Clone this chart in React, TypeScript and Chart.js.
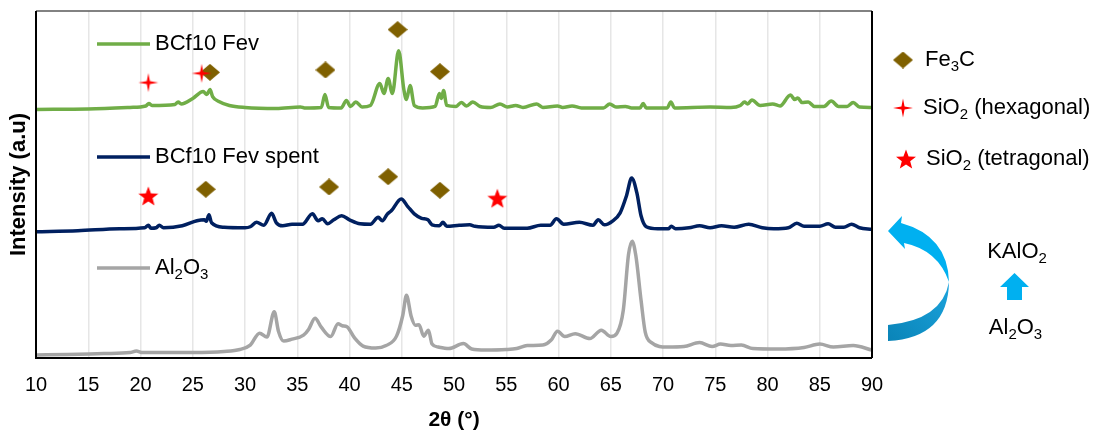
import React, { useEffect, useRef } from 'react';
import { Chart, registerables } from 'chart.js';
Chart.register(...registerables);

const FONT = '"Liberation Sans", Arial, Helvetica, sans-serif';

// ---- data (offset intensity, a.u.) ----
const fevX = [10,15,19,20.5,20.8,21.1,23.3,23.6,23.9,25,26,26.35,26.65,26.9,27.5,28.5,30,33,35.3,35.7,37.3,37.65,38,39.2,39.7,40.1,40.6,41.2,42,42.9,43.3,43.7,44.1,44.7,45.2,45.45,45.8,46.2,47,48.2,48.6,48.8,49,49.3,50.2,50.7,51.2,51.8,52.5,53.5,54.4,55.1,55.9,56.6,57.9,58.5,59.9,60.4,61.3,62.2,64.3,64.9,65.5,66.4,67,67.8,68.1,68.4,70.4,70.75,71.1,74.5,76.5,77.4,77.8,78.1,78.5,79.3,80.5,81.2,82.2,82.6,82.9,83.3,83.9,84.5,85.4,86.1,86.8,87.6,88.2,88.8,90];
const fevY = [250,250.5,252,253.5,256,254,255,257.5,255.5,261,268,265,270,263,258,254,252,251,252.5,251.5,252,265,252,251.5,259,253,257.5,252.5,254,276,266,281,266,309,270,260,274,254,251.5,253,266,261,269,254,253,257,253.5,257.5,253,252,255.5,252.5,254,252,255.5,252,253.5,252,253.5,251.5,251.5,255.5,252.5,253,251.5,251.5,256,251.5,251.5,257.5,251.5,252.5,252,254,257.5,255.5,259.5,254,255.5,253.5,264.5,260,261.5,257,257.5,253,253,258.5,253,253,257,252.5,252];

const spentX = [10,14,18,20.4,20.75,21,21.5,21.8,22.2,24,25.4,26.1,26.3,26.55,26.8,28,30,30.5,31.1,31.8,32.55,33,33.6,34.5,35.5,36.45,37,37.4,37.9,38.5,39.25,40,41,42,42.75,43.15,43.6,44,44.95,45.6,46.2,46.9,47.5,47.9,48.6,48.95,49.3,50.5,51.5,52,53.8,54.3,54.8,57,58.3,59.2,59.8,60.5,62,63.3,63.8,64.4,65.2,65.9,66.5,67,67.5,67.9,68.4,69.5,70.5,70.8,71.2,72.5,73.5,74.5,75.6,76.8,78.2,79.5,80.6,82,82.8,83.5,85,85.8,86.5,87.3,88.05,88.8,90];
const spentY = [127,128,130,131,133.5,130.5,131,133.5,131,133,138,139,137.5,144,136,131.5,131,132,136.5,133.5,145.5,136,133,134.5,134.5,145,138,140,135,139,143,139,135,134.5,141.5,138,144.5,148,160,152,145,140.5,139,134,133,136.5,132.5,133.5,134,132.5,131.5,133.5,130.5,130.5,133.5,133.5,140,134.5,136.5,133.5,139,134,138,146,163,181,166,143,132,130,130,132.5,130,131,133,131,133,131.5,134.5,131,130,131,135.5,132.5,132.5,135,131.5,131.5,134.5,131,129.5];

const aluX = [10,13,16.5,19,19.6,20.2,25,28,29.5,30.5,31.4,32.1,32.8,33.2,33.7,34.5,35.6,36.1,36.7,37.3,38.2,38.9,39.3,39.75,40.5,41.3,42.5,43.5,44.5,45.1,45.45,45.9,46.3,46.65,47.1,47.55,47.9,48.5,49.5,50.9,51.7,53,55,56,57,58.5,59.3,59.9,60.6,61.6,63,64.1,65,65.6,66.2,66.7,67.05,67.4,67.9,68.3,68.9,70.4,72,73.5,74.7,75.5,76.5,77.5,78.6,81,83.5,85,86.3,88.2,90];
const aluY = [3,3.5,4.5,5.5,7,5.5,5.5,6.5,8.5,13,25,21,46.5,27,17,19,23,29,40,31,21.5,34.5,32.5,31.5,20,12,10,12.5,22,43,63,42,33,33.5,22,28,14,11,9.5,14.5,9,8,8.5,9.5,12.5,13,18,27,21.5,24.5,19.5,28,21.5,25,48,104,117.5,103,58,26,15.5,11,11.5,15.5,11.5,14,12.5,13,9.5,9,10.5,14,11,12.5,8];

// phase markers
const fe3cX = [26.65,37.7,44.6,48.65,26.25,38.05,43.7,48.65];
const fe3cY = [287.3,289.7,330.3,288,169.7,172,182.3,168.7];
const hexX = [20.75,25.85];
const hexY = [277,286.3];
const tetX = [20.75,54.15];
const tetY = [163,160.7];

const seriesNames = ['BCf10 Fev', 'BCf10 Fev spent', 'Al2O3'];
const seriesColors = ['#70AD47', '#002060', '#A5A5A5'];
const xMin = 10, xMax = 90, xStep = 5;

type Part = [string, boolean];
const seriesLabelParts: Part[][] = [
  [['BCf10 Fev', false]],
  [['BCf10 Fev spent', false]],
  [['Al', false], ['2', true], ['O', false], ['3', true]],
];
const phaseLabelParts: Part[][] = [
  [['Fe', false], ['3', true], ['C', false]],
  [['SiO', false], ['2', true], [' (hexagonal)', false]],
  [['SiO', false], ['2', true], [' (tetragonal)', false]],
];
const kalo2Parts: Part[] = [['KAlO', false], ['2', true]];
const al2o3Parts: Part[] = [['Al', false], ['2', true], ['O', false], ['3', true]];

function pts(xs: number[], ys: number[]) {
  return xs.map((x, i) => ({ x, y: ys[i] }));
}

function makeDiamond() {
  const w = 20, h = 17;
  const c = document.createElement('canvas');
  c.width = w; c.height = h;
  const g = c.getContext('2d')!;
  g.fillStyle = '#7F6000';
  g.beginPath();
  g.moveTo(w / 2, 0); g.lineTo(w, h / 2); g.lineTo(w / 2, h); g.lineTo(0, h / 2);
  g.closePath(); g.fill();
  return c;
}

function makeStar(n: number, rx: number, ry: number, inner: number, size: number, cy: number) {
  const c = document.createElement('canvas');
  c.width = size; c.height = size;
  const g = c.getContext('2d')!;
  g.fillStyle = '#FF0000';
  g.beginPath();
  const cx = size / 2;
  for (let i = 0; i < n * 2; i++) {
    const a = -Math.PI / 2 + (i * Math.PI) / n;
    const r = i % 2 === 0 ? 1 : inner;
    const x = cx + Math.cos(a) * rx * r;
    const y = cy + Math.sin(a) * ry * r;
    if (i === 0) g.moveTo(x, y); else g.lineTo(x, y);
  }
  g.closePath(); g.fill();
  return c;
}

function drawRich(ctx: CanvasRenderingContext2D, parts: Part[], x: number, y: number, size: number, align: 'left' | 'center') {
  const sub = Math.round(size * 0.68);
  let w = 0;
  for (const [t, s] of parts) {
    ctx.font = `${s ? sub : size}px ${FONT}`;
    w += ctx.measureText(t).width;
  }
  let cx = align === 'center' ? x - w / 2 : x;
  ctx.textAlign = 'left';
  ctx.textBaseline = 'middle';
  ctx.fillStyle = '#000';
  for (const [t, s] of parts) {
    ctx.font = `${s ? sub : size}px ${FONT}`;
    ctx.fillText(t, cx, s ? y + size * 0.3 : y);
    cx += ctx.measureText(t).width;
  }
}

export default function App() {
  const ref = useRef<HTMLCanvasElement | null>(null);

  useEffect(() => {
    if (!ref.current) return;
    const diamond = makeDiamond();
    const star4 = makeStar(4, 10, 9.5, 0.22, 22, 11);
    const star5 = makeStar(5, 10.5, 10.5, 0.42, 22, 12);

    const deco = {
      id: 'deco',
      afterDatasetsDraw(chart: any) {
        const { ctx, chartArea: a } = chart;
        ctx.save();
        ctx.lineWidth = 1.5;
        ctx.strokeStyle = '#595959';
        ctx.beginPath(); ctx.moveTo(a.left, a.top); ctx.lineTo(a.right, a.top); ctx.stroke();
        ctx.lineWidth = 2;
        ctx.strokeStyle = '#000';
        ctx.beginPath();
        ctx.moveTo(a.right, a.top); ctx.lineTo(a.right, a.bottom);
        ctx.moveTo(a.left, a.top); ctx.lineTo(a.left, a.bottom); ctx.lineTo(a.right, a.bottom);
        ctx.stroke();
        ctx.restore();
      },
      afterDraw(chart: any) {
        const { ctx } = chart;
        ctx.save();
        const ly = [44, 157, 268];
        seriesLabelParts.forEach((p, i) => {
          ctx.strokeStyle = seriesColors[i];
          ctx.lineWidth = 3.5;
          ctx.beginPath(); ctx.moveTo(97, ly[i]); ctx.lineTo(150, ly[i]); ctx.stroke();
          drawRich(ctx, p, 155, ly[i], 22, 'left');
        });
        const py = [60, 108, 159];
        const imgs = [diamond, star4, star5];
        const mx = [903, 903, 906];
        const tx = [925, 923, 926];
        phaseLabelParts.forEach((p, i) => {
          const im = imgs[i];
          ctx.drawImage(im, mx[i] - im.width / 2, py[i] - im.height / 2);
          drawRich(ctx, p, tx[i], py[i], 22, 'left');
        });
        // curved arrow
        ctx.fillStyle = '#00B0F0';
        ctx.beginPath();
        ctx.moveTo(888, 231); ctx.lineTo(902, 216); ctx.lineTo(901, 223);
        ctx.quadraticCurveTo(948, 236, 949, 282);
        ctx.quadraticCurveTo(938, 250, 904, 243);
        ctx.lineTo(905, 249);
        ctx.closePath(); ctx.fill();
        const grd = ctx.createLinearGradient(949, 282, 888, 340);
        grd.addColorStop(0, '#1BA3DC');
        grd.addColorStop(1, '#0A84B8');
        ctx.fillStyle = grd;
        ctx.beginPath();
        ctx.moveTo(949, 282);
        ctx.quadraticCurveTo(948, 338, 888, 341);
        ctx.lineTo(888, 325);
        ctx.quadraticCurveTo(942, 320, 949, 282);
        ctx.closePath(); ctx.fill();
        // up arrow
        ctx.fillStyle = '#00B0F0';
        ctx.beginPath();
        ctx.moveTo(1014.5, 273); ctx.lineTo(1029, 287); ctx.lineTo(1022, 287); ctx.lineTo(1022, 300);
        ctx.lineTo(1007, 300); ctx.lineTo(1007, 287); ctx.lineTo(1000, 287);
        ctx.closePath(); ctx.fill();
        drawRich(ctx, kalo2Parts, 1017, 252, 22, 'center');
        drawRich(ctx, al2o3Parts, 1015.5, 328, 22, 'center');
        ctx.restore();
      },
    };

    const lineDs = (label: string, xs: number[], ys: number[], color: string, order: number) => ({
      type: 'line' as const,
      label,
      data: pts(xs, ys),
      borderColor: color,
      backgroundColor: color,
      borderWidth: 3.5,
      pointRadius: 0,
      cubicInterpolationMode: 'monotone' as const,
      fill: false,
      order,
    });
    const markDs = (label: string, xs: number[], ys: number[], img: HTMLCanvasElement, order: number) => ({
      type: 'scatter' as const,
      label,
      data: pts(xs, ys),
      pointStyle: img,
      pointRadius: 10,
      showLine: false,
      order,
    });

    const chart = new Chart(ref.current, {
      type: 'line',
      data: {
        datasets: [
          markDs('SiO2 (tetragonal)', tetX, tetY, star5, 0),
          markDs('SiO2 (hexagonal)', hexX, hexY, star4, 1),
          markDs('Fe3C', fe3cX, fe3cY, diamond, 2),
          lineDs(seriesNames[0], fevX, fevY, seriesColors[0], 3),
          lineDs(seriesNames[1], spentX, spentY, seriesColors[1], 4),
          lineDs(seriesNames[2], aluX, aluY, seriesColors[2], 5),
        ] as any,
      },
      options: {
        responsive: false,
        animation: false,
        events: [],
        layout: { padding: { left: 0, top: 9, right: 227, bottom: 0 } },
        plugins: { legend: { display: false }, tooltip: { enabled: false } },
        scales: {
          x: {
            type: 'linear',
            min: xMin,
            max: xMax,
            afterFit: (s: any) => { s.height = 79; },
            ticks: { stepSize: xStep, color: '#000', font: { family: FONT, size: 20 }, padding: 15 },
            grid: { color: '#E6E6E6', lineWidth: 1.5, drawTicks: false },
            border: { display: false },
            title: { display: true, text: '2θ (°)', color: '#000', font: { family: FONT, size: 21, weight: 'bold' }, padding: { top: 4, bottom: 4 } },
          },
          y: {
            type: 'linear',
            min: 0,
            max: 349,
            afterFit: (s: any) => { s.width = 36; },
            ticks: { display: false },
            grid: { display: false, drawTicks: false },
            border: { display: false },
            title: { display: true, text: 'Intensity (a.u)', color: '#000', font: { family: FONT, size: 22, weight: 'bold' }, padding: { top: 6, bottom: 0 } },
          },
        },
      } as any,
      plugins: [deco],
    });
    return () => chart.destroy();
  }, []);

  return (
    <div style={{ position: 'fixed', left: 0, top: 0, width: 1099, height: 437, background: '#fff' }}>
      <canvas ref={ref} width={1099} height={437} style={{ display: 'block' }} />
    </div>
  );
}
